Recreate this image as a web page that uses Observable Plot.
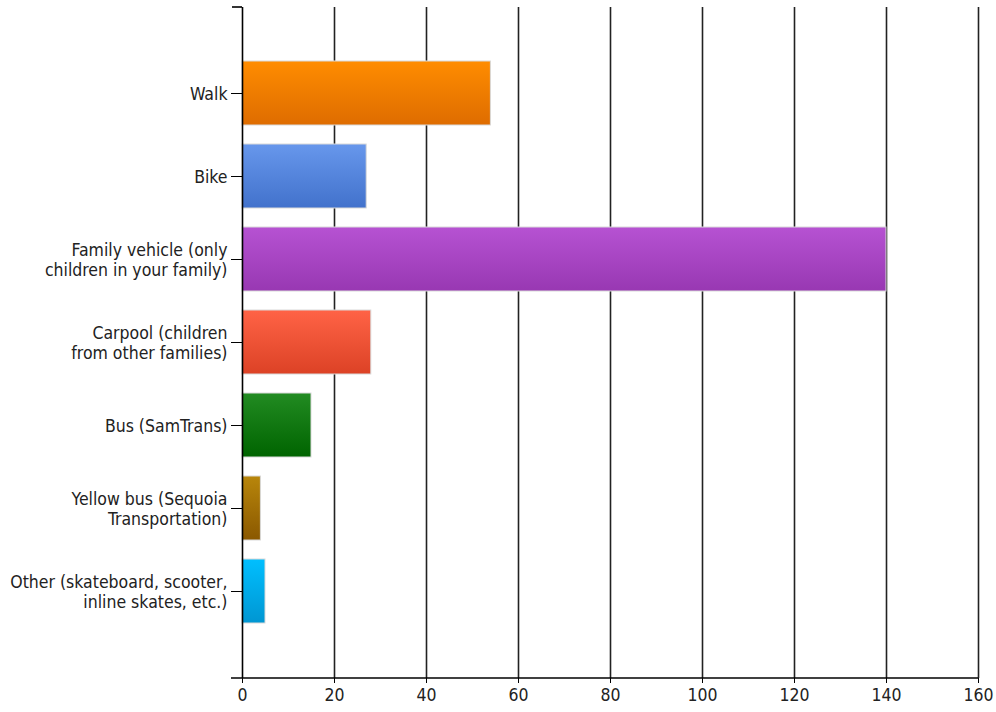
<!DOCTYPE html>
<html>
<head>
<meta charset="utf-8">
<script src="https://cdn.jsdelivr.net/npm/d3@7"></script>
<script src="https://cdn.jsdelivr.net/npm/@observablehq/plot@0.6"></script>
<style>
  html, body { margin: 0; padding: 0; background: #fff; }
</style>
</head>
<body>
<div id="chart"></div>
<script>
const categories = [
  "Walk",
  "Bike",
  "Family vehicle (only\nchildren in your family)",
  "Carpool (children\nfrom other families)",
  "Bus (SamTrans)",
  "Yellow bus (Sequoia\nTransportation)",
  "Other (skateboard, scooter,\ninline skates, etc.)"
];
const values = [54, 27, 140, 28, 15, 4, 5];
const xTicks = [0, 20, 40, 60, 80, 100, 120, 140, 160];

// gradient styles (top, bottom) per bar
const gradTop = ["#ff8c00", "#6797ec", "#b652d2", "#ff6346", "#228b22", "#b8860b", "#00bfff"];
const gradBottom = ["#de6c00", "#4272cc", "#9838b2", "#dc4226", "#006400", "#8a5800", "#0096d2"];

const data = categories.map((c, i) => ({category: c, value: values[i], index: i}));

const font = "'DejaVu Sans Condensed', 'DejaVu Sans', sans-serif";

const chart = Plot.plot({
  width: 996,
  height: 712,
  marginLeft: 242,
  marginRight: 18,
  marginTop: 7,
  marginBottom: 34,
  style: {fontFamily: font, fontSize: "17.5px", color: "#222", background: "#fff"},
  x: {domain: [0, 160], label: null},
  y: {domain: categories, paddingInner: 0.225, paddingOuter: 0.6125, label: null},
  color: {type: "identity"},
  marks: [
    Plot.ruleX(xTicks.slice(1), {stroke: "#222", strokeWidth: 1.6}),
    Plot.barX(data, {x: "value", y: "category", fill: d => `url(#grad${d.index})`, stroke: "#d9d9d9", strokeWidth: 1}),
    Plot.ruleX([0], {stroke: "#000", strokeWidth: 1.6}),
    Plot.axisY({tickSize: 11, tickPadding: 4, label: null, lineHeight: 1.12, fontSize: 17.5, fontFamily: font, stroke: "#000"}),
    Plot.axisX({ticks: xTicks, tickSize: 5, tickPadding: 5, label: null, fontSize: 17.5, fontFamily: font, stroke: "#000"})
  ]
});

const svg = d3.select(chart);
const defs = svg.insert("defs", ":first-child");
categories.forEach((c, i) => {
  const g = defs.append("linearGradient").attr("id", `grad${i}`).attr("x1", 0).attr("y1", 0).attr("x2", 0).attr("y2", 1);
  g.append("stop").attr("offset", "0%").attr("stop-color", gradTop[i]);
  g.append("stop").attr("offset", "100%").attr("stop-color", gradBottom[i]);
});

// bottom axis line and top end tick, positioned through the plot's scales
const xs = chart.scale("x");
const ys = chart.scale("y");
const x0 = xs.apply(0);
const x1 = xs.apply(160);
const [yTop, yBottom] = ys.range;
svg.append("line").attr("x1", x0 - 11).attr("x2", x1).attr("y1", yBottom).attr("y2", yBottom)
  .attr("stroke", "#000").attr("stroke-width", 1.6);
svg.append("line").attr("x1", x0 - 10).attr("x2", x0).attr("y1", yTop).attr("y2", yTop)
  .attr("stroke", "#000").attr("stroke-width", 1.6);

document.getElementById("chart").appendChild(chart);
</script>
</body>
</html>
